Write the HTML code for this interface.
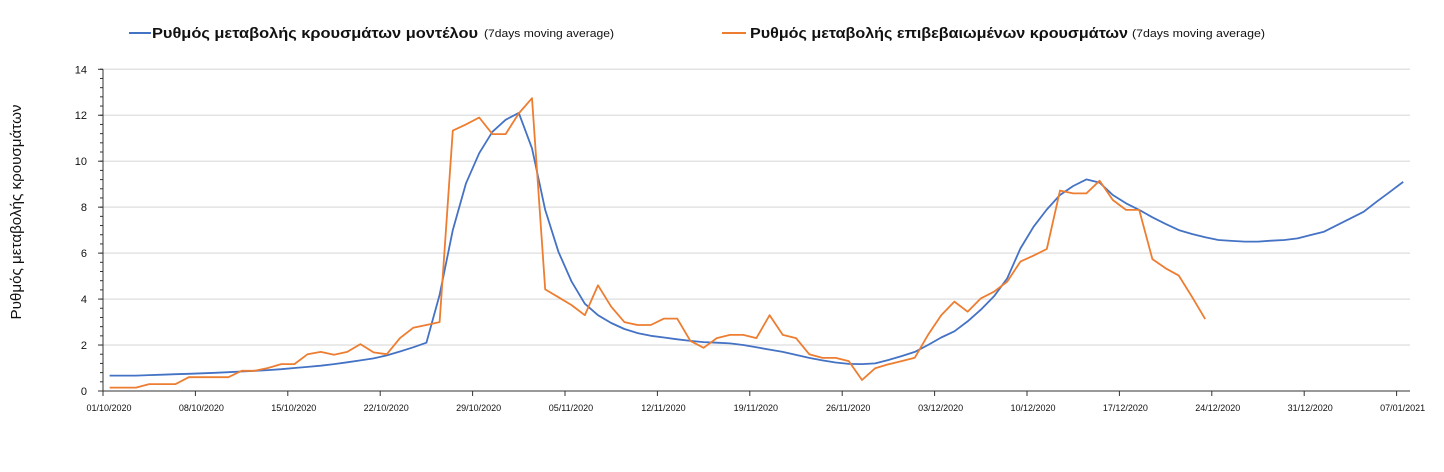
<!DOCTYPE html>
<html><head><meta charset="utf-8"><style>
body{margin:0;background:#fff;width:1444px;height:467px;overflow:hidden;font-family:"Liberation Sans","DejaVu Sans",sans-serif}
svg text{font-family:"Liberation Sans","DejaVu Sans",sans-serif}
</style></head><body>
<svg id="chart" width="1444" height="467" viewBox="0 0 1444 467" xmlns="http://www.w3.org/2000/svg">
<g>
 <g>
  <line x1="129" y1="33" x2="151" y2="33" stroke="#4472C4" stroke-width="2"/>
  <text x="152" y="38" font-size="15" font-weight="bold" fill="#111" textLength="326" lengthAdjust="spacingAndGlyphs">Ρυθμός μεταβολής κρουσμάτων μοντέλου</text>
  <text x="484" y="37" font-size="11" fill="#111" textLength="130" lengthAdjust="spacingAndGlyphs">(7days moving average)</text>
 </g>
 <g>
  <line x1="722" y1="33" x2="746" y2="33" stroke="#ED7D31" stroke-width="2"/>
  <text x="750" y="38" font-size="15" font-weight="bold" fill="#111" textLength="378" lengthAdjust="spacingAndGlyphs">Ρυθμός μεταβολής επιβεβαιωμένων κρουσμάτων</text>
  <text x="1132" y="37" font-size="11" fill="#111" textLength="133" lengthAdjust="spacingAndGlyphs">(7days moving average)</text>
 </g>
</g>
<text transform="translate(21,212) rotate(-90)" text-anchor="middle" font-size="14.5" fill="#111" textLength="215" lengthAdjust="spacingAndGlyphs">Ρυθμός μεταβολής κρουσμάτων</text>
<g id="grid"></g><g id="axes"></g><g id="series"></g>
</svg>
<script>
const yTicks=[0,2,4,6,8,10,12,14];
const xLabels=["01/10/2020","08/10/2020","15/10/2020","22/10/2020","29/10/2020","05/11/2020","12/11/2020","19/11/2020","26/11/2020","03/12/2020","10/12/2020","17/12/2020","24/12/2020","31/12/2020","07/01/2021"];
const modelValues=[0.67,0.67,0.67,0.69,0.71,0.73,0.75,0.77,0.79,0.82,0.85,0.88,0.91,0.95,1.0,1.05,1.1,1.17,1.25,1.33,1.42,1.55,1.72,1.9,2.1,4.18,7.0,9.04,10.35,11.28,11.8,12.1,10.56,7.88,6.06,4.76,3.8,3.3,2.96,2.7,2.52,2.4,2.33,2.25,2.18,2.13,2.1,2.07,2.0,1.9,1.8,1.7,1.57,1.44,1.33,1.24,1.18,1.17,1.2,1.35,1.52,1.7,2.0,2.33,2.6,3.03,3.54,4.12,4.9,6.2,7.15,7.9,8.53,8.92,9.21,9.07,8.53,8.17,7.88,7.56,7.27,7.0,6.83,6.69,6.57,6.53,6.5,6.5,6.54,6.57,6.64,6.79,6.93,7.22,7.51,7.8,8.24,8.67,9.1];
const confirmedValues=[0.15,0.15,0.15,0.3,0.3,0.3,0.6,0.6,0.6,0.6,0.88,0.88,1.0,1.17,1.17,1.6,1.7,1.58,1.7,2.04,1.68,1.6,2.3,2.75,2.87,3.0,11.33,11.6,11.9,11.18,11.18,12.08,12.74,4.42,4.08,3.74,3.3,4.6,3.67,3.0,2.87,2.87,3.15,3.15,2.18,1.88,2.3,2.44,2.44,2.3,3.3,2.44,2.3,1.6,1.44,1.44,1.3,0.48,0.99,1.16,1.3,1.45,2.44,3.3,3.89,3.45,4.03,4.32,4.76,5.63,5.89,6.18,8.72,8.6,8.6,9.15,8.31,7.88,7.88,5.74,5.34,5.02,4.1,3.13];
const NS="http://www.w3.org/2000/svg";
const X0=103,DAY=13.2,Y0=391,UNIT=22.98,RIGHT=1410;
const xDay=d=>X0+d*DAY;
const yVal=v=>Y0-v*UNIT;
function mk(tag,attrs,parent){const e=document.createElementNS(NS,tag);for(const k in attrs)e.setAttribute(k,attrs[k]);parent.appendChild(e);return e;}
const grid=document.getElementById('grid'),axes=document.getElementById('axes'),series=document.getElementById('series');
yTicks.forEach(v=>{
 if(v>0){const g=mk('line',{x1:X0,x2:RIGHT,y1:yVal(v),y2:yVal(v),stroke:'#e3e3e3','stroke-width':1.5},grid);
 
 }
 const t=mk('text',{x:X0-16,y:yVal(v)+4,'font-size':11,'text-anchor':'end',fill:'#111'},axes);t.textContent=v;
 
 
 mk('line',{x1:X0-5,x2:X0,y1:yVal(v),y2:yVal(v),stroke:'#333'},axes);
});
for(let v=0;v<=14.001;v+=0.4){mk('line',{x1:X0-3,x2:X0,y1:yVal(v),y2:yVal(v),stroke:'#333'},axes);}
const ya=mk('line',{x1:X0,x2:X0,y1:yVal(14),y2:Y0,stroke:'#333'},axes);


const xa=mk('line',{x1:X0,x2:RIGHT,y1:Y0,y2:Y0,stroke:'#333'},axes);


xLabels.forEach((l,i)=>{const x=xDay(i*7);
 mk('line',{x1:x,x2:x,y1:Y0,y2:Y0+5,stroke:'#333'},axes);
 const t=mk('text',{x:x+6,y:Y0+20,'font-size':9,'text-anchor':'middle',fill:'#111'},axes);t.textContent=l;
 
 
});
function line(vals,color,name){
 const pts=vals.map((v,i)=>xDay(i+0.5).toFixed(1)+','+yVal(v).toFixed(1)).join(' ');
 const p=mk('polyline',{points:pts,fill:'none',stroke:color,'stroke-width':1.8,'stroke-linejoin':'round'},series);
 
 
}
line(modelValues,'#4472C4','model-series-line');
line(confirmedValues,'#ED7D31','confirmed-series-line');
</script>
</body></html>
